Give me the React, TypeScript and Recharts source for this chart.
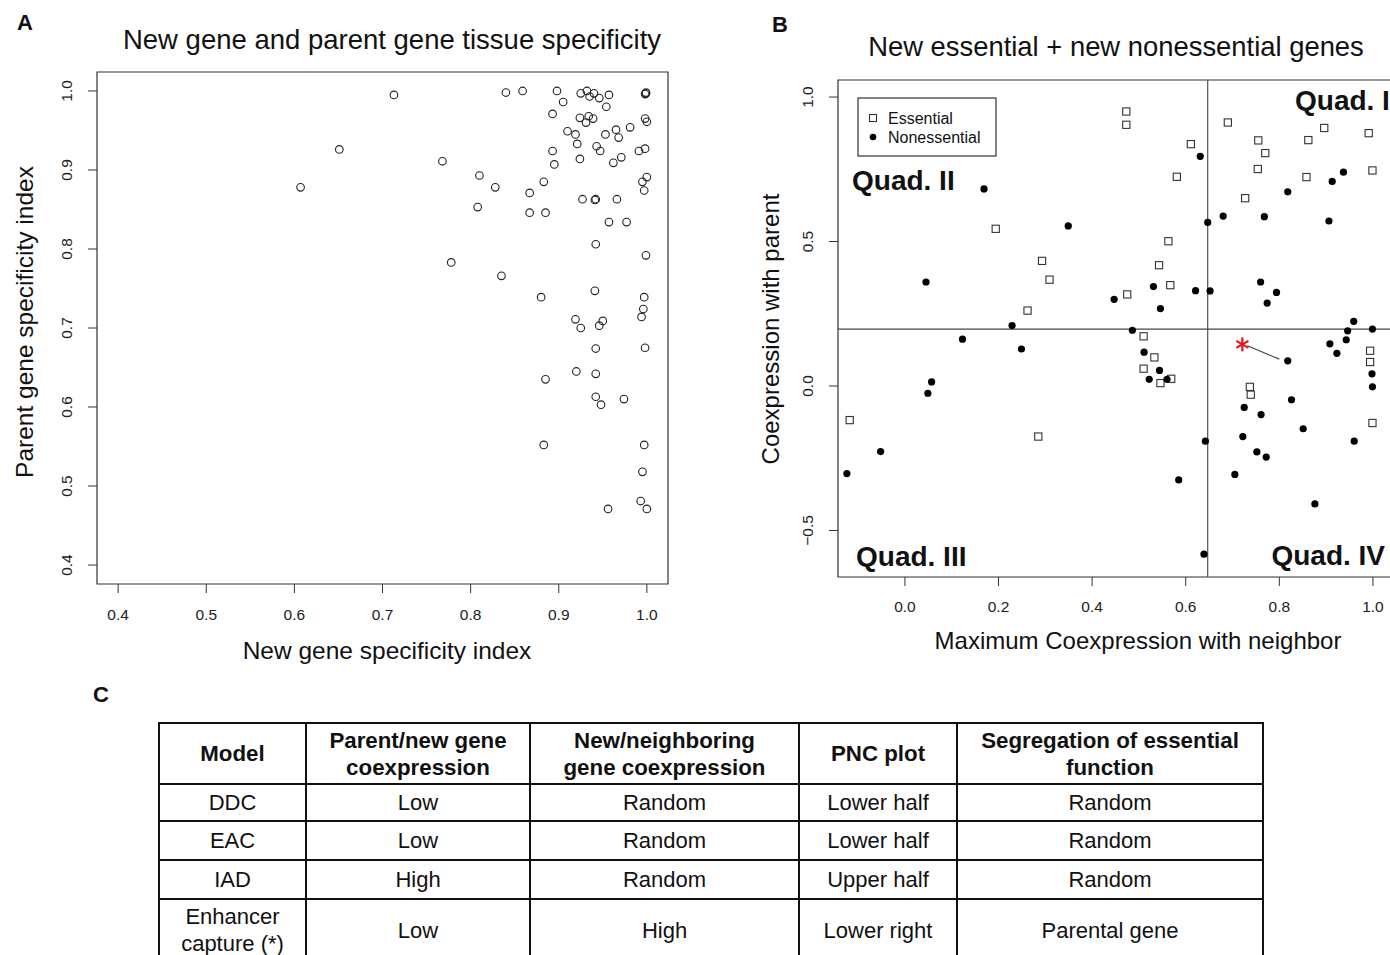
import React from 'react';
import { ScatterChart, Scatter, XAxis, YAxis, ReferenceArea, ReferenceLine } from 'recharts';

const FONT = '"Liberation Sans", Arial, Helvetica, sans-serif';

// ---------- Panel A data ----------
const newGeneSpecificity = [
  0.713, 0.840, 0.859, 0.898, 0.905, 0.925, 0.932, 0.935, 0.940, 0.946, 0.957, 0.954, 0.999, 0.999, 0.998,
  0.893, 0.924, 0.934, 0.939, 0.931, 0.998, 1.0, 0.910, 0.919, 0.953, 0.965, 0.968, 0.981, 0.921, 0.943,
  0.947, 0.991, 0.998, 0.893, 0.651, 0.768, 0.895, 0.924, 0.962, 0.971, 0.810, 0.883, 0.995, 1.0, 0.607,
  0.828, 0.867, 0.997, 0.927, 0.941, 0.942, 0.966, 0.808, 0.867, 0.885, 0.957, 0.977, 0.942, 0.999, 0.778,
  0.835, 0.880, 0.941, 0.997, 0.996, 0.994, 0.919, 0.925, 0.950, 0.946, 0.942, 0.998, 0.920, 0.942, 0.885,
  0.942, 0.948, 0.974, 0.883, 0.997, 0.995, 0.993, 1.0, 0.956,
];
const parentGeneSpecificity = [
  0.995, 0.998, 1.0, 1.0, 0.986, 0.997, 1.0, 0.993, 0.997, 0.991, 0.995, 0.980, 0.997, 0.998, 0.996,
  0.971, 0.966, 0.968, 0.965, 0.960, 0.965, 0.961, 0.949, 0.945, 0.945, 0.951, 0.941, 0.954, 0.933, 0.930,
  0.924, 0.924, 0.927, 0.924, 0.926, 0.911, 0.907, 0.914, 0.909, 0.916, 0.893, 0.885, 0.885, 0.891, 0.878,
  0.878, 0.871, 0.874, 0.863, 0.862, 0.863, 0.863, 0.853, 0.846, 0.846, 0.834, 0.834, 0.806, 0.792, 0.783,
  0.766, 0.739, 0.747, 0.739, 0.724, 0.714, 0.711, 0.700, 0.709, 0.703, 0.674, 0.675, 0.645, 0.642, 0.635,
  0.613, 0.603, 0.610, 0.552, 0.552, 0.518, 0.481, 0.471, 0.471,
];
const specTicks = [0.4, 0.5, 0.6, 0.7, 0.8, 0.9, 1.0];
const specDomain = [0.376, 1.024];

// ---------- Panel B data ----------
const essentialNeighbor = [
  0.473, 0.473, 0.611, 0.581, 0.690, 0.755, 0.770, 0.754, 0.862, 0.896, 0.991, 0.999, 0.858, 0.727, 0.194,
  0.293, 0.309, 0.262, 0.563, 0.543, 0.567, 0.475, 0.510, 0.533, 0.510, 0.546, 0.569, 0.737, 0.739, 0.994,
  0.994, 0.999, -0.118, 0.285,
];
const essentialParent = [
  0.950, 0.904, 0.837, 0.724, 0.912, 0.850, 0.806, 0.751, 0.851, 0.893, 0.875, 0.746, 0.723, 0.650, 0.544,
  0.433, 0.368, 0.261, 0.501, 0.418, 0.349, 0.317, 0.172, 0.099, 0.060, 0.010, 0.025, -0.003, -0.030, 0.122,
  0.083, -0.128, -0.118, -0.175,
];
const nonessentialNeighbor = [
  0.169, 0.349, 0.045, 0.229, 0.123, 0.631, 0.818, 0.647, 0.680, 0.768, 0.906, 0.937, 0.913, 0.531, 0.621,
  0.652, 0.447, 0.546, 0.760, 0.794, 0.774, 0.959, 0.946, 0.999, 0.486, 0.943, 0.908, 0.923, 0.511, 0.544,
  0.522, 0.560, 0.818, 0.826, 0.725, 0.761, 0.851, 0.722, 0.752, 0.772, 0.705, 0.876, 0.642, 0.585, 0.639,
  0.960, 0.998, 0.999, 0.249, 0.057, 0.049, -0.052, -0.124,
];
const nonessentialParent = [
  0.682, 0.554, 0.360, 0.209, 0.162, 0.795, 0.672, 0.566, 0.588, 0.586, 0.571, 0.740, 0.708, 0.344, 0.330,
  0.329, 0.300, 0.268, 0.360, 0.324, 0.287, 0.224, 0.191, 0.197, 0.193, 0.160, 0.146, 0.113, 0.117, 0.054,
  0.023, 0.023, 0.087, -0.048, -0.074, -0.099, -0.148, -0.175, -0.228, -0.246, -0.306, -0.408, -0.191, -0.325, -0.582,
  -0.191, 0.042, -0.003, 0.128, 0.014, -0.025, -0.227, -0.303,
];
const highlightNeighbor = [0.721];
const highlightParent = [0.144];
const pointerFrom = { x: 0.732, y: 0.139 };
const pointerTo = { x: 0.800, y: 0.093 };
const quadrantSplitNeighbor = 0.647;
const quadrantSplitParent = 0.197;
const neighborTicks = [0.0, 0.2, 0.4, 0.6, 0.8, 1.0];
const parentTicks = [-0.5, 0.0, 0.5, 1.0];
const neighborDomain = [-0.143, 1.06];
const parentDomain = [-0.661, 1.059];

// ---------- Panel C data ----------
const tableHeader = [
  ['Model'],
  ['Parent/new gene', 'coexpression'],
  ['New/neighboring', 'gene coexpression'],
  ['PNC plot'],
  ['Segregation of essential', 'function'],
];
const tableRows = [
  [['DDC'], ['Low'], ['Random'], ['Lower half'], ['Random']],
  [['EAC'], ['Low'], ['Random'], ['Lower half'], ['Random']],
  [['IAD'], ['High'], ['Random'], ['Upper half'], ['Random']],
  [['Enhancer', 'capture (*)'], ['Low'], ['High'], ['Lower right'], ['Parental gene']],
];
const columnWidths = [147, 224, 269, 158, 306];
const rowHeights = [37, 39, 39, 62];

const zip = (xs: number[], ys: number[]) => xs.map((x, i) => ({ x, y: ys[i] }));
const specData = zip(newGeneSpecificity, parentGeneSpecificity);
const essentialData = zip(essentialNeighbor, essentialParent);
const nonessentialData = zip(nonessentialNeighbor, nonessentialParent);
const highlightData = zip(highlightNeighbor, highlightParent);

const fmt = (v: number) => (v < 0 ? '\u2212' : '') + Math.abs(v).toFixed(1);

const XTick = (p: any) => (
  <text x={p.x} y={p.y} dy="0.71em" textAnchor="middle" fontSize={15.5} fill="#222" fontFamily={FONT}>
    {fmt(p.payload.value)}
  </text>
);
const YTick = (p: any) => (
  <text x={p.x} y={p.y} transform={`rotate(-90, ${p.x}, ${p.y})`} textAnchor="middle" fontSize={15.5} fill="#222" fontFamily={FONT}>
    {fmt(p.payload.value)}
  </text>
);

const OpenCircle = (p: any) => <circle cx={p.cx} cy={p.cy} r={3.8} fill="none" stroke="#222" strokeWidth={1.1} />;
const OpenSquare = (p: any) => (
  <rect x={p.cx - 3.6} y={p.cy - 3.6} width={7.2} height={7.2} fill="#fff" stroke="#333" strokeWidth={1.1} />
);
const FilledDot = (p: any) => <circle cx={p.cx} cy={p.cy} r={3.6} fill="#000" />;
const Asterisk = (p: any) => {
  const r = 7;
  const c = 0.866 * r;
  const h = 0.5 * r;
  return (
    <g stroke="#e3141b" strokeWidth={2.2}>
      <line x1={p.cx} y1={p.cy - r} x2={p.cx} y2={p.cy + r} />
      <line x1={p.cx - c} y1={p.cy - h} x2={p.cx + c} y2={p.cy + h} />
      <line x1={p.cx - c} y1={p.cy + h} x2={p.cx + c} y2={p.cy - h} />
    </g>
  );
};

const txt = { fontFamily: FONT, fill: '#111' } as const;

export default function App() {
  return (
    <div style={{ position: 'absolute', left: 0, top: 0, width: 1390, height: 955, overflow: 'hidden', background: '#fff', fontFamily: FONT }}>
      {/* Panel A */}
      <div style={{ position: 'absolute', left: 0, top: 0 }}>
        <ScatterChart width={700} height={680} margin={{ top: 72, right: 32, bottom: 36, left: 0 }}>
          <XAxis type="number" dataKey="x" domain={specDomain} ticks={specTicks} allowDataOverflow height={60}
            axisLine={false} tickLine={{ stroke: '#333' }} tickSize={9} tickMargin={16} tick={XTick} interval={0} />
          <YAxis type="number" dataKey="y" domain={specDomain} ticks={specTicks} allowDataOverflow width={97}
            axisLine={false} tickLine={{ stroke: '#333' }} tickSize={9} tickMargin={16} tick={YTick} interval={0} />
          <ReferenceArea x1={specDomain[0]} x2={specDomain[1]} y1={specDomain[0]} y2={specDomain[1]}
            fill="none" fillOpacity={0} stroke="#333" strokeWidth={1.2} ifOverflow="visible" />
          <Scatter data={specData} shape={OpenCircle} isAnimationActive={false} />
        </ScatterChart>
      </div>

      {/* Panel B */}
      <div style={{ position: 'absolute', left: 740, top: 0 }}>
        <ScatterChart width={671} height={680} margin={{ top: 80, right: 10, bottom: 43, left: 0 }}>
          <XAxis type="number" dataKey="x" domain={neighborDomain} ticks={neighborTicks} allowDataOverflow height={60}
            axisLine={false} tickLine={{ stroke: '#333' }} tickSize={9} tickMargin={15} tick={XTick} interval={0} />
          <YAxis type="number" dataKey="y" domain={parentDomain} ticks={parentTicks} allowDataOverflow width={98}
            axisLine={false} tickLine={{ stroke: '#333' }} tickSize={9} tickMargin={16} tick={YTick} interval={0} />
          <ReferenceArea x1={neighborDomain[0]} x2={neighborDomain[1]} y1={parentDomain[0]} y2={parentDomain[1]}
            fill="none" fillOpacity={0} stroke="#333" strokeWidth={1.2} ifOverflow="visible" />
          <ReferenceLine x={quadrantSplitNeighbor} stroke="#444" strokeWidth={1.1} />
          <ReferenceLine y={quadrantSplitParent} stroke="#444" strokeWidth={1.1} />
          <ReferenceLine segment={[pointerFrom, pointerTo]} stroke="#444" strokeWidth={1.1} />
          <Scatter data={essentialData} shape={OpenSquare} isAnimationActive={false} />
          <Scatter data={nonessentialData} shape={FilledDot} isAnimationActive={false} />
          <Scatter data={highlightData} shape={Asterisk} isAnimationActive={false} />
        </ScatterChart>
      </div>

      {/* Texts */}
      <svg width={1390} height={955} style={{ position: 'absolute', left: 0, top: 0, pointerEvents: 'none' }}>
        <text x={17} y={30} fontSize={22} fontWeight="bold" {...txt}>A</text>
        <text x={392} y={49} fontSize={27.5} textAnchor="middle" {...txt}>New gene and parent gene tissue specificity</text>
        <text x={387} y={659} fontSize={24.5} textAnchor="middle" {...txt}>New gene specificity index</text>
        <text x={33} y={322} fontSize={24.5} textAnchor="middle" transform="rotate(-90, 33, 322)" {...txt}>Parent gene specificity index</text>

        <text x={772} y={32} fontSize={22} fontWeight="bold" {...txt}>B</text>
        <text x={1116} y={56} fontSize={27.4} textAnchor="middle" {...txt}>New essential + new nonessential genes</text>
        <text x={1138} y={649} fontSize={24} textAnchor="middle" {...txt}>Maximum Coexpression with neighbor</text>
        <text x={779} y={329} fontSize={24} textAnchor="middle" transform="rotate(-90, 779, 329)" {...txt}>Coexpression with parent</text>

        <text x={1295} y={110} fontSize={28} fontWeight="bold" {...txt}>Quad. I</text>
        <text x={852} y={190} fontSize={28} fontWeight="bold" {...txt}>Quad. II</text>
        <text x={856} y={566} fontSize={28} fontWeight="bold" {...txt}>Quad. III</text>
        <text x={1385} y={565} fontSize={28} fontWeight="bold" textAnchor="end" {...txt}>Quad. IV</text>

        <rect x={858} y={98} width={138} height={58} fill="#fff" stroke="#333" strokeWidth={1.2} />
        <rect x={869.5} y={114.5} width={7} height={7} fill="#fff" stroke="#333" strokeWidth={1.1} />
        <circle cx={873} cy={137} r={3.3} fill="#000" />
        <text x={888} y={124} fontSize={16} {...txt}>Essential</text>
        <text x={888} y={143} fontSize={16} {...txt}>Nonessential</text>

        <text x={93} y={702} fontSize={22} fontWeight="bold" {...txt}>C</text>
      </svg>

      {/* Panel C table */}
      <table style={{ position: 'absolute', left: 158, top: 722, borderCollapse: 'collapse', tableLayout: 'fixed',
        width: columnWidths.reduce((a, b) => a + b, 0), fontFamily: FONT, fontSize: 22, color: '#111' }}>
        <colgroup>
          {columnWidths.map((w, i) => <col key={i} style={{ width: w }} />)}
        </colgroup>
        <tbody>
          <tr style={{ height: 61 }}>
            {tableHeader.map((lines, i) => (
              <td key={i} style={{ border: '2px solid #111', textAlign: 'center', fontWeight: 'bold', lineHeight: '27px', padding: 0, fontSize: 22.3 }}>
                {lines.map((l, j) => <div key={j}>{l}</div>)}
              </td>
            ))}
          </tr>
          {tableRows.map((row, r) => (
            <tr key={r} style={{ height: rowHeights[r] }}>
              {row.map((lines, i) => (
                <td key={i} style={{ border: '2px solid #111', textAlign: 'center', lineHeight: '27px', padding: 0 }}>
                  {lines.map((l, j) => <div key={j}>{l}</div>)}
                </td>
              ))}
            </tr>
          ))}
        </tbody>
      </table>
    </div>
  );
}
